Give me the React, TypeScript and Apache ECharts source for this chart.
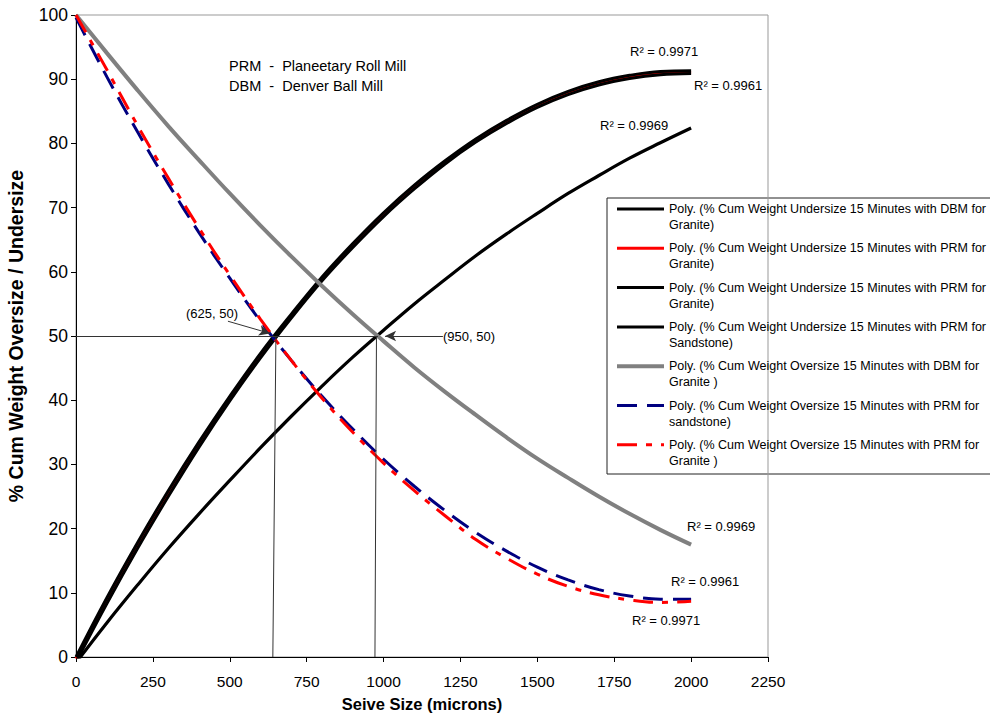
import React, { useEffect, useRef } from "react";
import * as echarts from "echarts";

// Sieve sizes (microns) at which the trendlines are sampled
const sizes = [0, 100, 200, 300, 400, 500, 600, 700, 800, 900, 1000, 1100, 1200, 1300, 1400, 1500, 1600, 1700, 1800, 1900, 2000];

// % Cum Weight Undersize 15 Minutes with DBM for Granite
const underDbmGranite = [-0.9, 5.3, 11.2, 16.9, 22.3, 27.5, 32.6, 37.5, 42.2, 46.7, 50.9, 55.0, 58.8, 62.5, 65.9, 69.1, 72.2, 75.0, 77.7, 80.1, 82.4];
// % Cum Weight Undersize 15 Minutes with PRM for Granite (red)
const underPrmGraniteRed = [-0.3, 8.9, 17.5, 25.6, 33.2, 40.3, 47.0, 53.1, 58.9, 64.1, 68.9, 73.2, 77.0, 80.4, 83.3, 85.8, 87.8, 89.3, 90.3, 90.9, 91.1];
// % Cum Weight Undersize 15 Minutes with PRM for Granite (black)
const underPrmGranite = [0.0, 9.2, 17.8, 25.9, 33.5, 40.6, 47.3, 53.4, 59.2, 64.4, 69.2, 73.5, 77.3, 80.7, 83.6, 86.1, 88.1, 89.6, 90.6, 91.2, 91.3];
// % Cum Weight Undersize 15 Minutes with PRM for Sandstone
const underPrmSandstone = [-0.8, 8.3, 16.9, 25.0, 32.7, 39.9, 46.6, 52.8, 58.6, 63.8, 68.6, 72.9, 76.8, 80.2, 83.1, 85.6, 87.6, 89.1, 90.1, 90.7, 90.9];
// % Cum Weight Oversize 15 Minutes with DBM for Granite
const overDbmGranite = [100.0, 94.1, 88.3, 82.7, 77.4, 72.2, 67.2, 62.4, 57.8, 53.4, 49.2, 45.1, 41.3, 37.7, 34.2, 30.9, 27.9, 25.0, 22.3, 19.8, 17.5];
// % Cum Weight Oversize 15 Minutes with PRM for sandstone
const overPrmSandstone = [99.6, 90.4, 81.8, 73.7, 66.1, 59.0, 52.3, 46.2, 40.6, 35.5, 30.8, 26.6, 22.8, 19.4, 16.5, 14.0, 12.0, 10.5, 9.5, 9.0, 9.0];
// % Cum Weight Oversize 15 Minutes with PRM for Granite
const overPrmGranite = [100.0, 91.5, 82.8, 74.6, 66.8, 59.5, 52.6, 46.2, 40.3, 35.0, 30.2, 25.9, 22.0, 18.3, 15.4, 12.9, 11.0, 9.7, 8.9, 8.5, 8.7];

const seriesNames = [
  "Poly. (% Cum Weight Undersize 15 Minutes with DBM for Granite)",
  "Poly. (% Cum Weight Undersize 15 Minutes with PRM for Granite)",
  "Poly. (% Cum Weight Undersize 15 Minutes with PRM for Granite) ",
  "Poly. (% Cum Weight Undersize 15 Minutes with PRM for Sandstone)",
  "Poly. (% Cum Weight Oversize 15 Minutes with DBM for Granite )",
  "Poly. (% Cum Weight Oversize 15 Minutes with PRM for sandstone)",
  "Poly. (% Cum Weight Oversize 15 Minutes with PRM for Granite )",
];

// Annotation points (data coordinates)
const d50Line = [[0, 50], [982, 50]];
const d50Prm = [[650, 50], [640, 0]];
const d50Dbm = [[977, 50], [972, 0]];
const arrowPrm = [[494, 52.3], [631, 50.4]];
const arrowDbm = [[1193, 50], [1005, 50]];

const rSquared = ["R² = 0.9971", "R² = 0.9961", "R² = 0.9969", "R² = 0.9969", "R² = 0.9961", "R² = 0.9971"];

const FONT = "'Liberation Sans', Arial, Helvetica, sans-serif";

const pair = (ys: number[]) => sizes.map((x, i) => [x, ys[i]]);

export default function App() {
  const ref = useRef<HTMLDivElement>(null);
  useEffect(() => {
    if (!ref.current) return;
    const chart = echarts.init(ref.current, undefined, { renderer: "svg" });

    const lineSeries = (name: string, ys: number[], color: string, width: number, type: any, extra: any = {}) => ({
      name,
      type: "line",
      data: pair(ys),
      smooth: 0.4,
      symbol: "none",
      showSymbol: false,
      lineStyle: { color, width, type },
      itemStyle: { color },
      emphasis: { disabled: true },
      silent: true,
      ...extra,
    });

    const thin = { color: "#333", width: 1, type: "solid" };

    const texts: any[] = [
      { type: "text", x: 229, y: 66, style: { text: "PRM  -  Planeetary Roll Mill", fontSize: 14.5, fontFamily: FONT, fill: "#000", verticalAlign: "middle" } },
      { type: "text", x: 229, y: 86, style: { text: "DBM  -  Denver Ball Mill", fontSize: 14.5, fontFamily: FONT, fill: "#000", verticalAlign: "middle" } },
      { type: "text", x: 186, y: 313, style: { text: "(625, 50)", fontSize: 13, fontFamily: FONT, fill: "#000", verticalAlign: "middle" } },
      { type: "text", x: 443, y: 336, style: { text: "(950, 50)", fontSize: 13, fontFamily: FONT, fill: "#000", verticalAlign: "middle" } },
    ];
    const rPos = [[630, 51], [694, 85], [600, 125], [687, 526], [671, 581], [632, 620]];
    rSquared.forEach((t, i) => {
      texts.push({ type: "text", x: rPos[i][0], y: rPos[i][1], style: { text: t, fontSize: 13, fontFamily: FONT, fill: "#000", verticalAlign: "middle" } });
    });
    texts.push({ type: "rect", shape: { x: 607, y: 198, width: 400, height: 276 }, style: { fill: "#fff", stroke: "#222", lineWidth: 1 }, z: -1, zlevel: 0 });

    const legendWidths = [3, 3, 3, 3, 4, 3, 3];

    chart.setOption({
      animation: false,
      backgroundColor: "#fff",
      grid: {
        left: 76, top: 15, right: 222, bottom: 60,
        show: true, borderColor: "#999", borderWidth: 1, backgroundColor: "transparent",
        containLabel: false, outerBoundsMode: "none",
      },
      xAxis: {
        type: "value",
        min: 0,
        max: 2250,
        interval: 250,
        name: "Seive Size (microns)",
        nameLocation: "middle",
        nameGap: 38,
        nameTextStyle: { fontFamily: FONT, fontSize: 16.5, fontWeight: "bold", color: "#000" },
        axisLine: { show: true, lineStyle: { color: "#000", width: 1 } },
        axisTick: { show: true, length: 5, lineStyle: { color: "#000" } },
        axisLabel: { fontFamily: FONT, fontSize: 15.5, color: "#000", margin: 16, formatter: (v: number) => String(v) },
        splitLine: { show: false },
      },
      yAxis: {
        type: "value",
        min: 0,
        max: 100,
        interval: 10,
        name: "% Cum Weight Oversize / Undersize",
        nameLocation: "middle",
        nameGap: 50,
        nameTextStyle: { fontFamily: FONT, fontSize: 19.5, fontWeight: "bold", color: "#000" },
        axisLine: { show: true, lineStyle: { color: "#000", width: 1 } },
        axisTick: { show: true, length: 5, lineStyle: { color: "#000" } },
        axisLabel: { fontFamily: FONT, fontSize: 17.5, color: "#000", margin: 8 },
        splitLine: { show: false },
      },
      legend: {
        orient: "vertical",
        left: 615,
        top: 185,
        padding: 0,
        itemGap: -8.7,
        itemWidth: 47,
        itemHeight: 14,
        selectedMode: false,
        data: seriesNames.map((n, i) => ({ name: n, lineStyle: { width: legendWidths[i] } })),
        itemStyle: { color: "transparent", borderColor: "transparent", borderWidth: 0 },
        formatter: (n: string) => "\n" + n.trim().replace(" for ", " for\n"),
        textStyle: { fontFamily: FONT, fontSize: 12.5, color: "#000", lineHeight: 16 },
      },
      graphic: texts,
      series: [
        lineSeries(seriesNames[0], underDbmGranite, "#000", 3.2, "solid", {
          markLine: {
            silent: true,
            symbol: ["none", "none"],
            label: { show: false },
            lineStyle: thin,
            emphasis: { disabled: true },
            data: [
              [{ coord: d50Line[0] }, { coord: d50Line[1] }],
              [{ coord: d50Prm[0] }, { coord: d50Prm[1] }],
              [{ coord: d50Dbm[0] }, { coord: d50Dbm[1] }],
              [{ coord: arrowPrm[0], symbol: "none" }, { coord: arrowPrm[1], symbol: "arrow", symbolSize: [8, 11] }],
              [{ coord: arrowDbm[0], symbol: "none" }, { coord: arrowDbm[1], symbol: "arrow", symbolSize: [8, 11] }],
            ],
          },
        }),
        lineSeries(seriesNames[1], underPrmGraniteRed, "#ff0000", 3, "solid"),
        lineSeries(seriesNames[2], underPrmGranite, "#000", 3, "solid"),
        lineSeries(seriesNames[3], underPrmSandstone, "#000", 3, "solid"),
        lineSeries(seriesNames[4], overDbmGranite, "#808080", 4, "solid"),
        lineSeries(seriesNames[5], overPrmSandstone, "#000080", 3, [20, 10]),
        lineSeries(seriesNames[6], overPrmGranite, "#ff0000", 3, [20, 9, 6, 9]),
      ],
    });
    return () => chart.dispose();
  }, []);
  return <div ref={ref} style={{ width: 990, height: 717, position: "absolute", left: 0, top: 0 }} />;
}
